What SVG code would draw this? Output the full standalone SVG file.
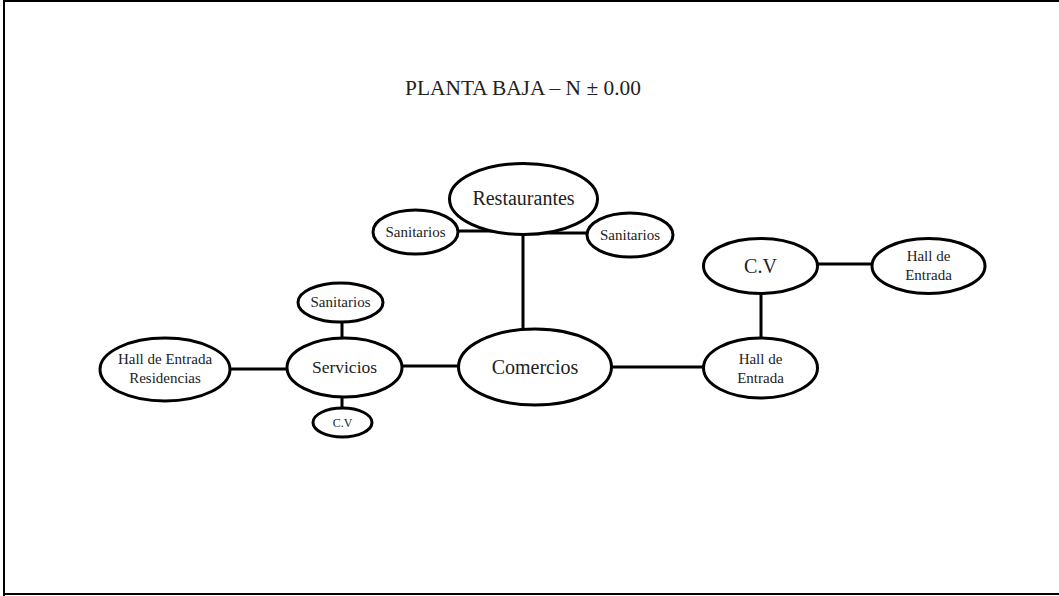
<svg xmlns="http://www.w3.org/2000/svg" width="1059" height="596" viewBox="0 0 1059 596">
<style>
ellipse{fill:#fff;stroke:#000;stroke-width:3}
.c line{stroke:#000;stroke-width:3}
text{font-family:"Liberation Serif","Times New Roman",serif;fill:#222;text-anchor:middle}
.t20{font-size:20px}
.t15{font-size:15px}
</style>
<rect width="1059" height="596" fill="#fff"/>
<g id="frame" stroke="#000" stroke-width="2" fill="none">
<line x1="4" y1="1" x2="1059" y2="1"/>
<line x1="4" y1="0" x2="4" y2="596"/>
<line x1="4" y1="594" x2="1059" y2="594"/>
</g>
<text id="title" x="523" y="95" style="font-size:21.4px">PLANTA BAJA – N ± 0.00</text>
<g class="c" id="connectors">
<line x1="440" y1="231" x2="505" y2="231"/>
<line x1="540" y1="233" x2="605" y2="233"/>
<line x1="523" y1="230" x2="523" y2="332"/>
<line x1="230" y1="369" x2="290" y2="369"/>
<line x1="400" y1="366" x2="460" y2="366"/>
<line x1="342" y1="320" x2="342" y2="340"/>
<line x1="342" y1="395" x2="342" y2="410"/>
<line x1="610" y1="367" x2="705" y2="367"/>
<line x1="761" y1="292" x2="761" y2="339"/>
<line x1="816" y1="264" x2="874" y2="264"/>
</g>
<g id="restaurantes"><ellipse cx="523.5" cy="199" rx="74" ry="35.5"/><text class="t20" x="523.5" y="205">Restaurantes</text></g>
<g id="sanitarios-izq"><ellipse cx="415.5" cy="232" rx="42.5" ry="22"/><text class="t15" x="415.5" y="237">Sanitarios</text></g>
<g id="sanitarios-der"><ellipse cx="630" cy="235" rx="43" ry="22"/><text class="t15" x="630" y="240">Sanitarios</text></g>
<g id="comercios"><ellipse cx="535" cy="367" rx="76.5" ry="38"/><text class="t20" x="535" y="374">Comercios</text></g>
<g id="hall-entrada"><ellipse cx="760.5" cy="368" rx="57" ry="30"/><text class="t15" x="760.5" y="364">Hall de</text><text class="t15" x="760.5" y="383">Entrada</text></g>
<g id="cv-der"><ellipse cx="760.5" cy="266" rx="57" ry="27.5"/><text class="t20" x="760.5" y="273">C.V</text></g>
<g id="hall-entrada-der"><ellipse cx="928.5" cy="266" rx="56.5" ry="27.5"/><text class="t15" x="928.5" y="261">Hall de</text><text class="t15" x="928.5" y="280">Entrada</text></g>
<g id="hall-residencias"><ellipse cx="165" cy="369.5" rx="65" ry="31.5"/><text class="t15" x="165" y="364">Hall de Entrada</text><text class="t15" x="165" y="383">Residencias</text></g>
<g id="servicios"><ellipse cx="344.5" cy="367.5" rx="57.5" ry="29.5"/><text x="344.5" y="373" style="font-size:17.5px">Servicios</text></g>
<g id="sanitarios-serv"><ellipse cx="340.5" cy="302.5" rx="42.5" ry="19.5"/><text class="t15" x="340.5" y="307">Sanitarios</text></g>
<g id="cv-serv"><ellipse cx="342.5" cy="422.5" rx="29.5" ry="14.5"/><text x="342.5" y="427" style="font-size:12px">C.V</text></g>
</svg>
